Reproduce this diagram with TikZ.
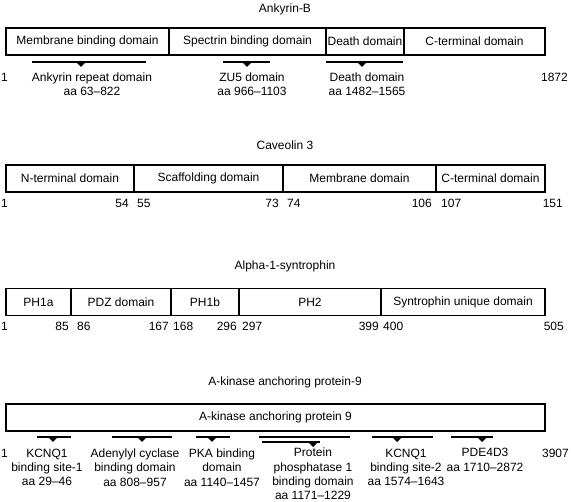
\documentclass[tikz,border=0pt]{standalone}
\usepackage{fontspec}
\setmainfont{Liberation Sans}
\begin{document}
\begin{tikzpicture}[x=1pt,y=-1pt,
  txt/.style={font=\fontsize{12}{14.3}\selectfont, inner sep=0pt},
  dom/.style={txt, draw, line width=1.1pt, minimum height=27pt},
  lbl/.style={txt, align=center},
  num/.style={txt},
  bar/.style={line width=1.1pt},
  tri/.style={fill=black, draw=none}]
\useasboundingbox (0,0) rectangle (571,502);
\newcommand{\tricaret}[2]{\fill (#1-5,#2) -- (#1+5,#2) -- (#1,#2+5) -- cycle;}

% ---------- Ankyrin-B ----------
\node[txt] (tAB) at (285,9) {Ankyrin-B};
\node[dom, minimum width=163pt] (ab1) at (87.5,41.5) {Membrane binding domain};
\node[dom, minimum width=157pt] (ab2) at (247.5,41.5) {Spectrin binding domain};
\node[dom, minimum width=78pt]  (ab3) at (365,41.5) {Death domain};
\node[dom, minimum width=141pt] (ab4) at (474.5,41.5) {C-terminal domain};
\draw[bar] (32,62) -- (146,62); \tricaret{81}{62}
\draw[bar] (223,62) -- (270,62); \tricaret{247}{62}
\draw[bar] (326,62) -- (403,62); \tricaret{362}{62}
\node[lbl] (lab1) at (92,84.5) {Ankyrin repeat domain\\aa 63--822};
\node[lbl] (lab2) at (252,84.5) {ZU5 domain\\aa 966--1103};
\node[lbl] (lab3) at (367,84.5) {Death domain\\aa 1482--1565};
\node[num, anchor=west] (nab1) at (1,77) {1};
\node[num, anchor=east] (nab2) at (568,77) {1872};

% ---------- Caveolin 3 ----------
\node[txt] (tCV) at (285,145) {Caveolin 3};
\node[dom, minimum width=128pt] (cv1) at (70,178.5) {N-terminal domain};
\node[dom, minimum width=149pt] (cv2) at (208.5,178.5) {Scaffolding domain};
\node[dom, minimum width=153pt] (cv3) at (359.5,178.5) {Membrane domain};
\node[dom, minimum width=109pt] (cv4) at (490.5,178.5) {C-terminal domain};
\node[num, anchor=west] (ncv1) at (1,203) {1};
\node[num, anchor=east] (ncv2) at (129,203) {54};
\node[num, anchor=west] (ncv3) at (137,203) {55};
\node[num, anchor=east] (ncv4) at (279,203) {73};
\node[num, anchor=west] (ncv5) at (287,203) {74};
\node[num, anchor=east] (ncv6) at (432,203) {106};
\node[num, anchor=west] (ncv7) at (441,203) {107};
\node[num, anchor=east] (ncv8) at (563,203) {151};

% ---------- Alpha-1-syntrophin ----------
\node[txt] (tAS) at (285,266) {Alpha-1-syntrophin};
\node[dom, minimum width=65pt]  (as1) at (38.5,302) {PH1a};
\node[dom, minimum width=100pt] (as2) at (121,302) {PDZ domain};
\node[dom, minimum width=68pt]  (as3) at (205,302) {PH1b};
\node[dom, minimum width=142pt] (as4) at (310,302) {PH2};
\node[dom, minimum width=164pt] (as5) at (463,302) {Syntrophin unique domain};
\node[num, anchor=west] (nas1) at (1,326) {1};
\node[num, anchor=east] (nas2) at (69,326) {85};
\node[num, anchor=west] (nas3) at (77,326) {86};
\node[num, anchor=east] (nas4) at (169,326) {167};
\node[num, anchor=west] (nas5) at (173,326) {168};
\node[num, anchor=east] (nas6) at (237,326) {296};
\node[num, anchor=west] (nas7) at (242,326) {297};
\node[num, anchor=east] (nas8) at (379,326) {399};
\node[num, anchor=west] (nas9) at (383,326) {400};
\node[num, anchor=east] (nas10) at (564,326) {505};

% ---------- A-kinase anchoring protein-9 ----------
\node[txt] (tAK) at (285,382.5) {A-kinase anchoring protein-9};
\node[dom, minimum width=539pt] (ak1) at (275.5,417.5) {A-kinase anchoring protein 9};
\draw[bar] (37,437) -- (71,437); \tricaret{53}{437}
\draw[bar] (112,437) -- (172,437); \tricaret{142}{437}
\draw[bar] (196,437) -- (230,437); \tricaret{212}{437}
\draw[bar] (259,437) -- (350,437);
\draw[bar] (262,442) -- (320,442); \tricaret{313}{442}
\draw[bar] (372,437) -- (433,437); \tricaret{397}{437}
\draw[bar] (451,437) -- (493,437); \tricaret{482}{437}
\node[lbl] (lak1) at (47,467.5) {KCNQ1\\binding site-1\\aa 29--46};
\node[lbl] (lak2) at (135,467.5) {Adenylyl cyclase\\binding domain\\aa 808--957};
\node[lbl] (lak3) at (222,467.5) {PKA binding\\domain\\aa 1140--1457};
\node[lbl] (lak4) at (313,474) {Protein\\phosphatase 1\\binding domain\\aa 1171--1229};
\node[lbl] (lak5) at (406,467.5) {KCNQ1\\binding site-2\\aa 1574--1643};
\node[lbl] (lak6) at (485,460) {PDE4D3\\aa 1710--2872};
\node[num, anchor=west] (nak1) at (1,453) {1};
\node[num, anchor=east] (nak2) at (569,453) {3907};
\end{tikzpicture}
\end{document}
